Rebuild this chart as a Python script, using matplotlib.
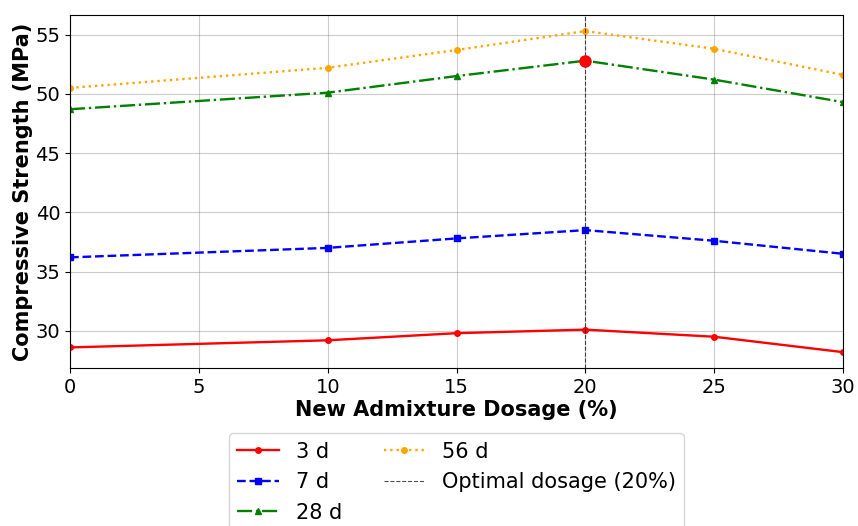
import numpy as np
import matplotlib.pyplot as plt

dosage = [0, 10, 15, 20, 25, 30]
s3 = [28.6, 29.2, 29.8, 30.1, 29.5, 28.2]
s7 = [36.2, 37.0, 37.8, 38.5, 37.6, 36.5]
s28 = [48.7, 50.1, 51.5, 52.8, 51.2, 49.3]
s56 = [50.5, 52.2, 53.7, 55.3, 53.8, 51.6]
optimal = 20

fig = plt.figure(figsize=(8.58, 5.26), dpi=100)
ax = fig.add_axes([0.0816, 0.30, 0.901, 0.6715])

ax.plot(dosage, s3, color='red', marker='o', markersize=4, linewidth=1.7, linestyle='-', label='3 d')
ax.plot(dosage, s7, color='blue', marker='s', markersize=4, linewidth=1.7, linestyle='--', label='7 d')
ax.plot(dosage, s28, color='green', marker='^', markersize=4, linewidth=1.7, linestyle='-.', label='28 d')
ax.plot(dosage, s56, color='orange', marker='o', markersize=4, linewidth=1.7, linestyle=':', label='56 d')
ax.axvline(optimal, color='black', linestyle='--', linewidth=0.8, alpha=0.7, label='Optimal dosage (20%)')

# highlight the 28 d value at the optimal dosage
ax.plot(optimal, s28[dosage.index(optimal)], 'o', color='red', markersize=8)

ax.set_xlim(0, 30)
ax.set_xlabel('New Admixture Dosage (%)', fontsize=15, fontweight='bold', labelpad=2)
ax.set_ylabel('Compressive Strength (MPa)', fontsize=15, fontweight='bold', labelpad=2)
ax.tick_params(labelsize=14)
ax.grid(True, color='gray', alpha=0.4)

ax.legend(loc='upper center', bbox_to_anchor=(0.5, -0.155), ncol=2, fontsize=15)

fig.savefig('out.png', dpi=100)
